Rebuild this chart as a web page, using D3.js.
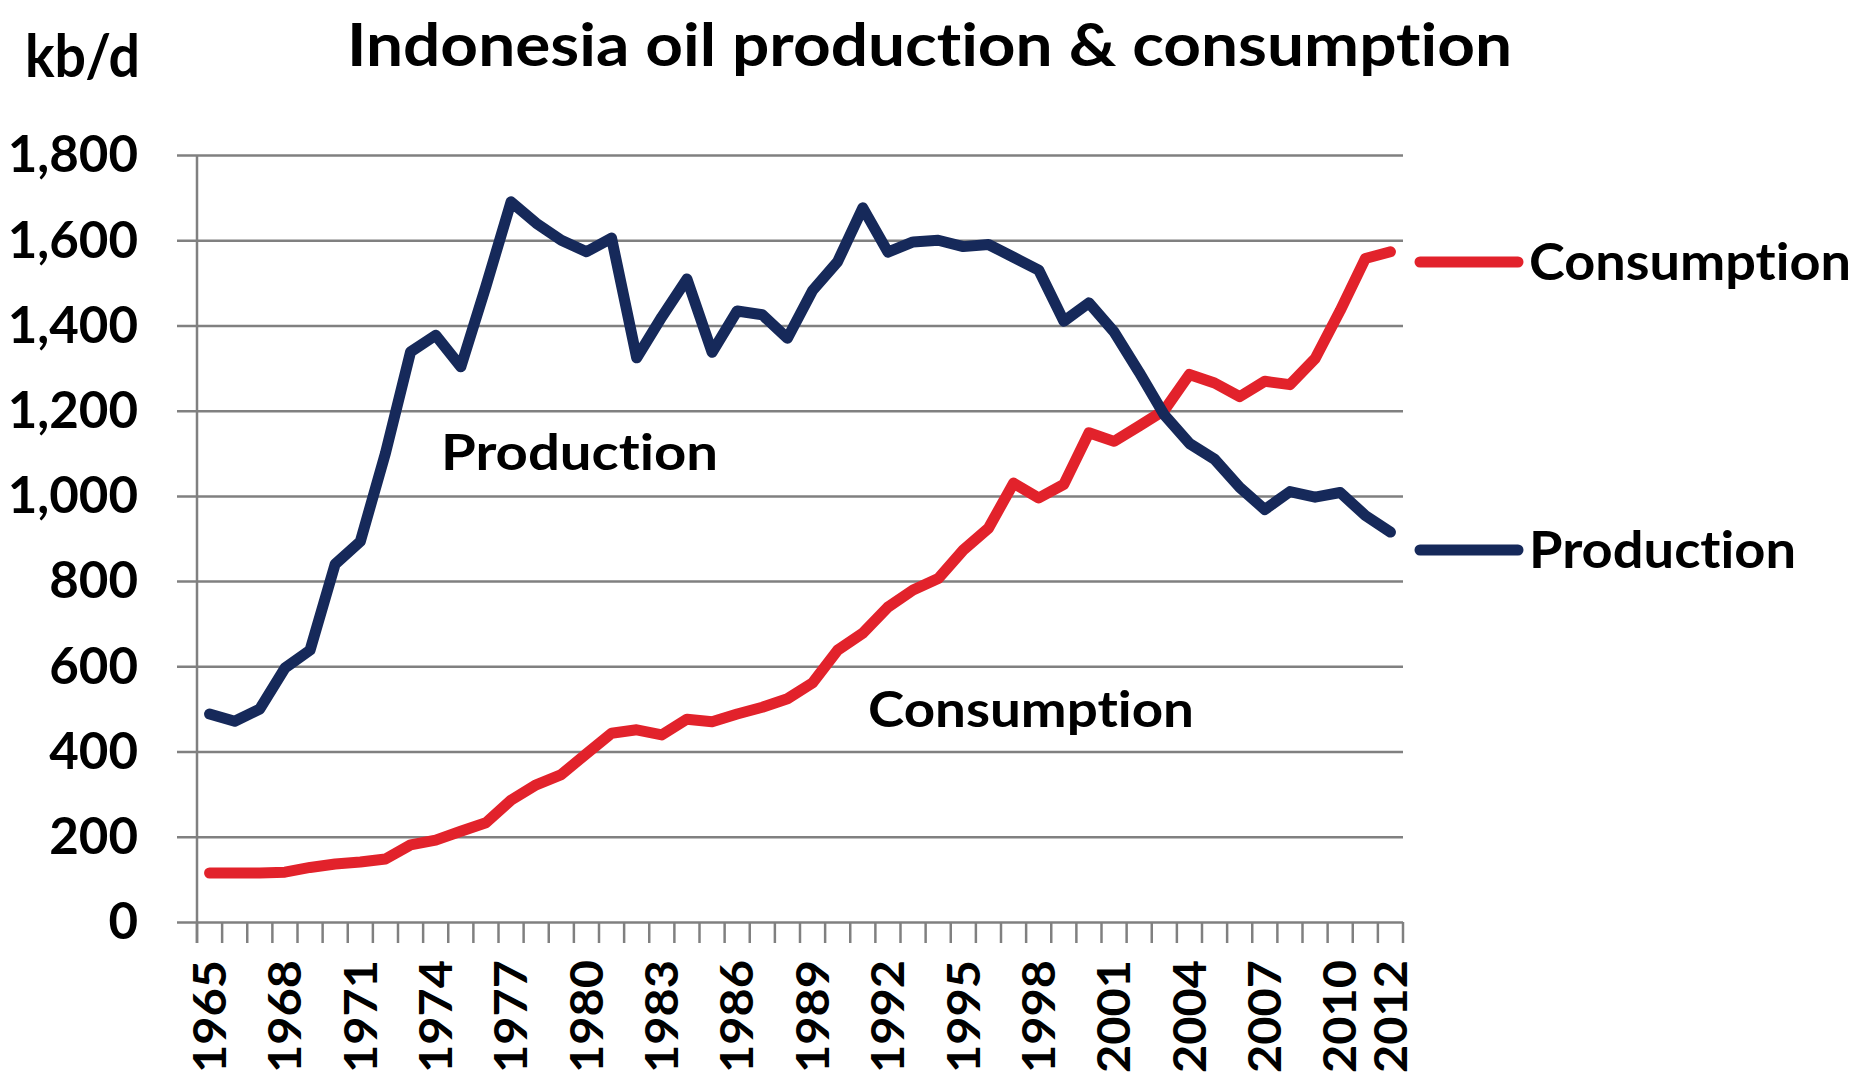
<!DOCTYPE html>
<html>
<head>
<meta charset="utf-8">
<script src="https://cdn.jsdelivr.net/npm/d3@7"></script>
<style>
  body { margin: 0; background: #fff; }
  svg { display: block; font-family: Lato, "Open Sans", sans-serif; font-weight: bold; }
  svg text { font-variant-ligatures: none; font-feature-settings: "liga" 0, "clig" 0; }
</style>
</head>
<body>
<svg id="chart" width="1870" height="1081"></svg>
<script>
const years = d3.range(1965, 2013);

const production = [
  488, 471, 500, 596, 638, 840, 893, 1100, 1338, 1377,
  1303, 1492, 1690, 1640, 1600, 1573, 1605, 1324, 1420, 1509,
  1337, 1434, 1425, 1370, 1482, 1550, 1676, 1572, 1596, 1600,
  1585, 1590, 1560, 1530, 1410, 1453, 1385, 1290, 1190, 1123,
  1086, 1020, 968, 1010, 997, 1008, 954, 915
];

const consumption = [
  115, 115, 115, 117, 128, 136, 141, 148, 181, 192,
  213, 233, 286, 322, 346, 395, 443, 451, 439, 476,
  470, 488, 504, 524, 561, 638, 678, 739, 779, 806,
  873, 924, 1030, 995, 1027, 1148, 1128, 1164, 1201, 1285,
  1265, 1233, 1269, 1261, 1322, 1435, 1557, 1573
];

const yTicks = [0, 200, 400, 600, 800, 1000, 1200, 1400, 1600, 1800];
const xLabels = [1965, 1968, 1971, 1974, 1977, 1980, 1983, 1986, 1989, 1992, 1995, 1998, 2001, 2004, 2007, 2010, 2012];

const seriesNames = ['Consumption', 'Production'];
const seriesColors = ['#e2222b', '#16295a'];

const svg = d3.select('#chart');

const plot = { left: 197, right: 1403, top: 155, bottom: 922 };
const gridColor = '#808080';

const x = d3.scaleBand()
  .domain(years)
  .range([plot.left, plot.right])
  .padding(0);

const y = d3.scaleLinear()
  .domain([0, 1800])
  .range([plot.bottom, plot.top]);

const cx = d => x(d) + x.bandwidth() / 2;

// title + unit
svg.append('text')
  .attr('x', 347)
  .attr('y', 66)
  .attr('font-size', 60)
  .attr('textLength', 1165)
  .attr('lengthAdjust', 'spacingAndGlyphs')
  .text('Indonesia oil production & consumption');

svg.append('text')
  .attr('x', 25)
  .attr('y', 77)
  .attr('font-size', 60)
  .attr('textLength', 115)
  .attr('lengthAdjust', 'spacingAndGlyphs')
  .text('kb/d');

// y axis with gridlines
const yAxis = svg.append('g')
  .attr('transform', `translate(${plot.left - 20}, 0)`)
  .call(d3.axisLeft(y)
    .tickValues(yTicks)
    .tickSize(-(plot.right - plot.left + 20))
    .tickPadding(39)
    .tickFormat(d3.format(',')));

yAxis.select('.domain').remove();
yAxis.selectAll('line')
  .attr('stroke', gridColor)
  .attr('stroke-width', 2.5);
yAxis.selectAll('text')
  .attr('font-size', 51)
  .attr('font-family', 'Lato, sans-serif')
  .attr('font-weight', 'bold')
  .attr('fill', '#000')
  .attr('dy', '0.33em');

// x axis: tick marks between categories
const boundaries = years.map(d => x(d)).concat([plot.right]);

svg.append('g')
  .selectAll('line')
  .data(boundaries)
  .enter()
  .append('line')
  .attr('x1', d => d)
  .attr('x2', d => d)
  .attr('y1', plot.bottom)
  .attr('y2', plot.bottom + 21)
  .attr('stroke', gridColor)
  .attr('stroke-width', 2.5);

svg.append('line')
  .attr('x1', plot.left)
  .attr('x2', plot.left)
  .attr('y1', plot.top)
  .attr('y2', plot.bottom + 21)
  .attr('stroke', gridColor)
  .attr('stroke-width', 2.5);

const xAxis = svg.append('g')
  .attr('transform', `translate(0, ${plot.bottom})`)
  .call(d3.axisBottom(x)
    .tickValues(xLabels)
    .tickSize(0)
    .tickSizeOuter(0));

xAxis.select('.domain').remove();
xAxis.selectAll('text')
  .attr('transform', 'rotate(-90)')
  .attr('x', -38)
  .attr('y', 0)
  .attr('dy', '0.36em')
  .attr('text-anchor', 'end')
  .attr('font-size', 45)
  .attr('font-family', 'Lato, sans-serif')
  .attr('font-weight', 'bold')
  .attr('fill', '#000')
  .attr('textLength', 113)
  .attr('lengthAdjust', 'spacingAndGlyphs');

// lines
const series = [
  { name: seriesNames[0], values: consumption, color: seriesColors[0], legendY: 262 },
  { name: seriesNames[1], values: production, color: seriesColors[1], legendY: 550 }
];

const toPath = d3.line()
  .x((d, i) => cx(years[i]))
  .y(d => y(d));

svg.append('g')
  .selectAll('path')
  .data(series)
  .enter()
  .append('path')
  .attr('d', d => toPath(d.values))
  .attr('fill', 'none')
  .attr('stroke', d => d.color)
  .attr('stroke-width', 11)
  .attr('stroke-linejoin', 'round')
  .attr('stroke-linecap', 'round');

// legend on the right
const legend = svg.append('g')
  .selectAll('g')
  .data(series)
  .enter()
  .append('g')
  .attr('transform', d => `translate(1420, ${d.legendY})`);

legend.append('line')
  .attr('x1', 0)
  .attr('x2', 98)
  .attr('stroke', d => d.color)
  .attr('stroke-width', 11)
  .attr('stroke-linecap', 'round');

legend.append('text')
  .attr('x', 109)
  .attr('y', 18)
  .attr('font-size', 51)
  .attr('textLength', d => d.name === 'Consumption' ? 322 : 267)
  .attr('lengthAdjust', 'spacingAndGlyphs')
  .text(d => d.name);

// labels inside the plot
svg.append('text')
  .attr('x', 441)
  .attr('y', 470)
  .attr('font-size', 50)
  .attr('textLength', 277)
  .attr('lengthAdjust', 'spacingAndGlyphs')
  .text(seriesNames[1]);

svg.append('text')
  .attr('x', 868)
  .attr('y', 727)
  .attr('font-size', 50)
  .attr('textLength', 326)
  .attr('lengthAdjust', 'spacingAndGlyphs')
  .text(seriesNames[0]);
</script>
</body>
</html>
